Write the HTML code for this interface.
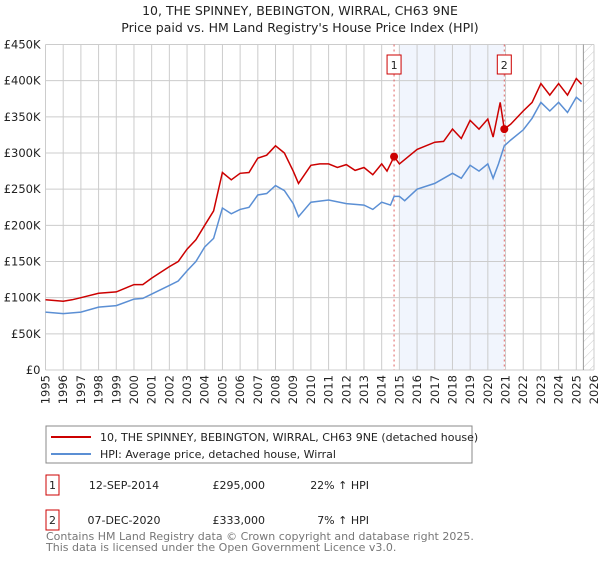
<!DOCTYPE html>
<html><head><meta charset="utf-8"><style>
body{margin:0;background:#fff;font-family:"Liberation Sans","DejaVu Sans",sans-serif;}
svg text{font-family:"DejaVu Sans","Liberation Sans",sans-serif;}
</style></head><body>
<svg id="c" width="600" height="560" xmlns="http://www.w3.org/2000/svg">
<text x="300" y="15" text-anchor="middle" font-size="12.5" fill="#222">10, THE SPINNEY, BEBINGTON, WIRRAL, CH63 9NE</text>
<text x="300" y="32" text-anchor="middle" font-size="12.5" fill="#222">Price paid vs. HM Land Registry's House Price Index (HPI)</text>
<defs><pattern id="hatch" width="6" height="6" patternUnits="userSpaceOnUse" patternTransform="rotate(45)"><line x1="0" y1="0" x2="0" y2="6" stroke="#ccc" stroke-width="1"/></pattern></defs>
<g id="plot"></g>
<rect x="46" y="426" width="426" height="37" fill="#fff" stroke="#888"/>
<line x1="51" y1="437" x2="91" y2="437" stroke="#cc0000" stroke-width="2"/>
<text x="100" y="441" font-size="11" fill="#222">10, THE SPINNEY, BEBINGTON, WIRRAL, CH63 9NE (detached house)</text>
<line x1="51" y1="454" x2="91" y2="454" stroke="#5b8fd4" stroke-width="2"/>
<text x="100" y="458" font-size="11" fill="#222">HPI: Average price, detached house, Wirral</text>
<rect x="46" y="475" width="13" height="20" fill="#fff" stroke="#cc0000"/>
<text x="52.5" y="489" text-anchor="middle" font-size="11" fill="#222">1</text>
<text x="124" y="489" text-anchor="middle" font-size="11" fill="#222">12-SEP-2014</text>
<text x="265" y="489" text-anchor="end" font-size="11" fill="#222">£295,000</text>
<text x="369" y="489" text-anchor="end" font-size="11" fill="#222">22% ↑ HPI</text>
<rect x="46" y="510" width="13" height="20" fill="#fff" stroke="#cc0000"/>
<text x="52.5" y="524" text-anchor="middle" font-size="11" fill="#222">2</text>
<text x="124" y="524" text-anchor="middle" font-size="11" fill="#222">07-DEC-2020</text>
<text x="265" y="524" text-anchor="end" font-size="11" fill="#222">£333,000</text>
<text x="369" y="524" text-anchor="end" font-size="11" fill="#222">7% ↑ HPI</text>
<text x="46" y="540" font-size="11" fill="#777">Contains HM Land Registry data © Crown copyright and database right 2025.</text>
<text x="46" y="551" font-size="11" fill="#777">This data is licensed under the Open Government Licence v3.0.</text>
</svg>
<script>
const hpiYears=[1995,1996,1997,1998,1999,2000,2000.5,2001,2002,2002.5,2003,2003.5,2004,2004.5,2005,2005.5,2006,2006.5,2007,2007.5,2008,2008.5,2009,2009.3,2010,2011,2012,2013,2013.5,2014,2014.5,2014.7,2015,2015.3,2016,2017,2018,2018.5,2019,2019.5,2020,2020.3,2020.6,2020.93,2021.3,2022,2022.5,2023,2023.5,2024,2024.5,2025,2025.3];
const hpiValues=[80,78,80,87,89,98,99,105,117,123,137,150,170,182,224,216,222,225,242,244,255,248,230,212,232,235,230,228,222,232,228,240,240,234,250,258,272,265,283,275,285,265,285,310,318,332,348,370,358,370,356,377,371];
const propYears=[1995,1996,1996.5,1997,1998,1999,2000,2000.5,2001,2002,2002.5,2003,2003.5,2004,2004.5,2005,2005.5,2006,2006.5,2007,2007.5,2008,2008.5,2009,2009.3,2010,2010.5,2011,2011.5,2012,2012.5,2013,2013.5,2014,2014.3,2014.7,2015,2016,2017,2017.5,2018,2018.5,2019,2019.5,2020,2020.3,2020.7,2020.93,2021.3,2022,2022.5,2023,2023.5,2024,2024.5,2025,2025.3];
const propValues=[97,95,97,100,106,108,118,118,127,143,150,167,180,200,220,273,263,272,273,293,297,310,300,275,258,283,285,285,280,284,276,280,270,285,275,295,285,305,315,316,333,320,345,333,347,322,370,333,340,358,370,396,380,396,380,403,395];
const saleYears=[2014.70,2020.93];
const saleValues=[295,333];
const yTicks=[0,50,100,150,200,250,300,350,400,450];
const yTickLabels=["£0","£50K","£100K","£150K","£200K","£250K","£300K","£350K","£400K","£450K"];
const xTicks=[1995,1996,1997,1998,1999,2000,2001,2002,2003,2004,2005,2006,2007,2008,2009,2010,2011,2012,2013,2014,2015,2016,2017,2018,2019,2020,2021,2022,2023,2024,2025,2026];
const L=45.5,R=594,T=44.5,B=370;
const x=y=>L+(y-1995)/(2026-1995)*(R-L);
const yv=v=>B-v/450*(B-T);
const NS="http://www.w3.org/2000/svg";
const g=document.getElementById('plot');
function mk(t,a){const e=document.createElementNS(NS,t);for(const k in a)e.setAttribute(k,a[k]);g.appendChild(e);return e;}
let e;
e=mk('rect',{x:x(2015),y:T,width:x(2020.93)-x(2015),height:B-T,fill:'#eef3fd',opacity:0.8});


e=mk('rect',{x:x(2025.4),y:T,width:R-x(2025.4),height:B-T,fill:'url(#hatch)'});


yTicks.forEach((t,i)=>{
 e=mk('line',{x1:L,x2:R,y1:yv(t),y2:yv(t),stroke:'#ccc','stroke-width':1});
 
 
 e=mk('text',{x:L-5,y:yv(t)+4,'text-anchor':'end','font-size':11.5,fill:'#222'});e.textContent=yTickLabels[i];
 
 
});
xTicks.forEach(t=>{
 e=mk('line',{x1:x(t),x2:x(t),y1:T,y2:B,stroke:'#ccc','stroke-width':1});
 
 
 e=mk('text',{x:0,y:0,'text-anchor':'end','font-size':11.5,fill:'#222',transform:`translate(${x(t)+4},${B+5}) rotate(-90)`});e.textContent=t;
 
 
});
e=mk('line',{x1:x(2025.4),x2:x(2025.4),y1:T,y2:B,stroke:'#999','stroke-width':1});


saleYears.forEach((s,i)=>{
 e=mk('line',{x1:x(s),x2:x(s),y1:T,y2:B,stroke:'#e06060','stroke-width':1,'stroke-dasharray':'2,3'});
 
 
 e=mk('rect',{x:x(s)-7,y:55,width:14,height:19,fill:'#fff',stroke:'#cc0000'});
 
 
 e=mk('text',{x:x(s),y:69,'text-anchor':'middle','font-size':11,fill:'#222'});e.textContent=String(i+1);
 
 
});
e=mk('path',{d:hpiYears.map((t,i)=>(i?'L':'M')+x(t).toFixed(1)+','+yv(hpiValues[i]).toFixed(1)).join(''),fill:'none',stroke:'#5b8fd4','stroke-width':1.5});


e=mk('path',{d:propYears.map((t,i)=>(i?'L':'M')+x(t).toFixed(1)+','+yv(propValues[i]).toFixed(1)).join(''),fill:'none',stroke:'#cc0000','stroke-width':1.5});


saleYears.forEach((s,i)=>{
 e=mk('circle',{cx:x(s),cy:yv(saleValues[i]),r:4,fill:'#cc0000'});
 
 
});
</script>
</body></html>
